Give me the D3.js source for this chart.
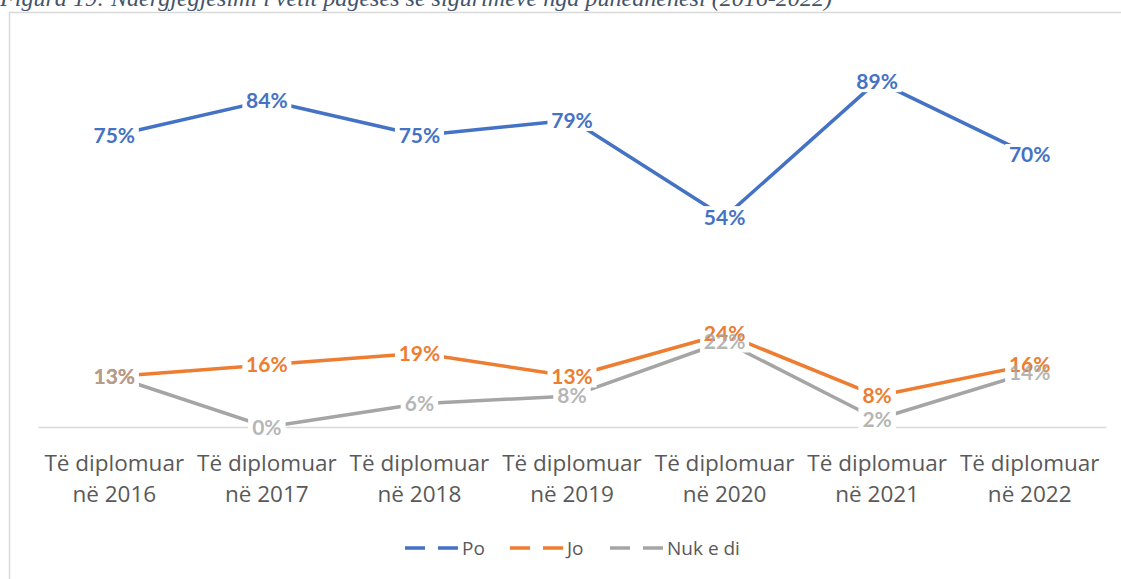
<!DOCTYPE html>
<html>
<head>
<meta charset="utf-8">
<script src="https://cdn.jsdelivr.net/npm/d3@7"></script>
<style>
  html, body { margin: 0; padding: 0; background: #fff; overflow: hidden; }
  svg { display: block; }
</style>
</head>
<body>
<script>
// values
var categories = ["2016", "2017", "2018", "2019", "2020", "2021", "2022"];
var seriesNames = ["Po", "Jo", "Nuk e di"];
var poValues = [75, 84, 75, 79, 54, 89, 70];
var joValues = [13, 16, 19, 13, 24, 8, 16];
var nukValues = [13, 0, 6, 8, 22, 2, 14];
var colors = ["#4472C4", "#ED7D31", "#A5A5A5"];

var width = 1121, height = 579;

var svg = d3.select("body")
  .append("svg")
  .attr("width", width)
  .attr("height", height);

// title, cut at the top like in the document
svg.append("text")
  .attr("x", 0)
  .attr("y", 6)
  .attr("textLength", 832)
  .attr("lengthAdjust", "spacingAndGlyphs")
  .style("font-family", "'Liberation Serif', 'DejaVu Serif', serif")
  .style("font-style", "italic")
  .style("font-size", "23px")
  .style("fill", "#44546A")
  .text("Figura 19: Ndërgjegjësimi i vetit pagesës së sigurimeve nga punëdhënësi (2016-2022)");

// chart frame
svg.append("rect")
  .attr("x", 9.5)
  .attr("y", 12.5)
  .attr("width", 1130)
  .attr("height", 600)
  .attr("fill", "none")
  .attr("stroke", "#d9d9d9")
  .attr("stroke-width", 1.5);

var x = d3.scaleBand()
  .domain(categories)
  .range([38, 1106]);

var y = d3.scaleLinear()
  .domain([0, 100])
  .range([427, 38.4]);

var cx = function(c) { return x(c) + x.bandwidth() / 2; };

// category axis
var xAxis = svg.append("g")
  .attr("transform", "translate(0,427)")
  .call(d3.axisBottom(x).tickSize(0).tickFormat(""));
xAxis.select(".domain").attr("stroke", "#d9d9d9").attr("stroke-width", 1.5);

var labels = svg.append("g")
  .style("font-family", "'Open Sans', Lato, sans-serif")
  .style("font-size", "22.5px")
  .style("fill", "#595959")
  .attr("text-anchor", "middle");

categories.forEach(function(c) {
  labels.append("text").attr("x", cx(c)).attr("y", 471).text("Të diplomuar");
  labels.append("text").attr("x", cx(c)).attr("y", 502).text("në " + c);
});

var series = [poValues, joValues, nukValues].map(function(vals, i) {
  return {
    name: seriesNames[i],
    color: colors[i],
    points: vals.map(function(v, j) { return { cat: categories[j], value: v }; })
  };
});

var line = d3.line()
  .x(function(d) { return cx(d.cat); })
  .y(function(d) { return y(d.value); });

svg.append("g").selectAll("path")
  .data(series)
  .enter()
  .append("path")
  .attr("d", function(d) { return line(d.points); })
  .attr("fill", "none")
  .attr("stroke", function(d) { return d.color; })
  .attr("stroke-width", 3.5)
  .attr("stroke-linejoin", "round");

// data labels with white boxes that cut the lines
var labelLayer = svg.append("g")
  .style("font-family", "Lato, 'Open Sans', sans-serif")
  .style("font-size", "21px")
  .style("font-weight", "bold");

series.forEach(function(s) {
  s.points.forEach(function(p) {
    var w = String(p.value).length * 11.5 + 20;
    labelLayer.append("rect")
      .attr("x", cx(p.cat) - w / 2 - 3)
      .attr("y", y(p.value) - 11)
      .attr("width", w + 6)
      .attr("height", 22)
      .attr("fill", "#fff");
  });
});

series.forEach(function(s, i) {
  labelLayer.selectAll(null)
    .data(s.points)
    .enter()
    .append("text")
    .attr("x", function(d) { return cx(d.cat); })
    .attr("y", function(d) { return y(d.value) + 7.5; })
    .attr("text-anchor", "middle")
    .attr("fill", s.color)
    .attr("fill-opacity", i === 2 ? 0.82 : 1)
    .text(function(d) { return d.value + "%"; });
});

// legend
var legendX = [405, 510, 610];
var legend = svg.append("g")
  .style("font-family", "'Open Sans', Lato, sans-serif")
  .style("font-size", "19px")
  .style("fill", "#595959");

series.forEach(function(s, i) {
  var g = legend.append("g").attr("transform", "translate(" + legendX[i] + ",548)");
  g.append("line")
    .attr("x1", 0).attr("x2", 53)
    .attr("y1", 0).attr("y2", 0)
    .attr("stroke", s.color)
    .attr("stroke-width", 3.5)
    .attr("stroke-dasharray", "20,13");
  g.append("text")
    .attr("x", 57)
    .attr("y", 7)
    .text(s.name);
});
</script>
</body>
</html>
